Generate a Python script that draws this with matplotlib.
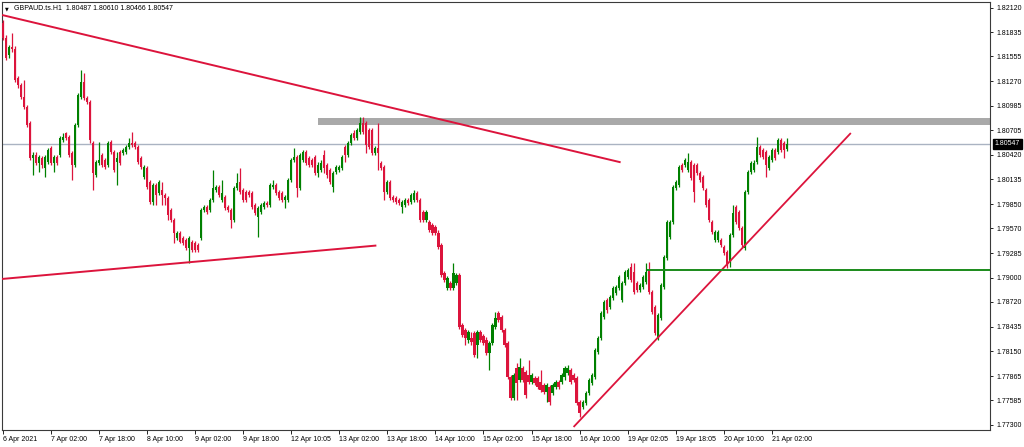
import matplotlib
matplotlib.use("Agg")
import matplotlib.pyplot as plt
from matplotlib.patches import Rectangle
import numpy as np

# ---------------- data (GBPAUD H1 candles) ----------------
opens = [
    1.81941, 1.81769, 1.81572, 1.81664, 1.81641, 1.81307, 1.81225, 1.81087, 1.80972, 1.80787,
    1.80383, 1.80417, 1.80325, 1.80383, 1.80268, 1.80337, 1.80499, 1.80325, 1.80394, 1.80417,
    1.80591, 1.80671, 1.80625, 1.80440, 1.80302, 1.80764, 1.81087, 1.81260, 1.81076, 1.81030,
    1.80556, 1.80186, 1.80325, 1.80417, 1.80360, 1.80302, 1.80568, 1.80452, 1.80337, 1.80452,
    1.80440, 1.80452, 1.80510, 1.80556, 1.80556, 1.80510, 1.80383, 1.80163, 1.80268, 1.80106,
    1.79875, 1.80071, 1.79979, 1.80014, 1.79956, 1.79922, 1.79783, 1.79667, 1.79460, 1.79517,
    1.79460, 1.79436, 1.79344, 1.79413, 1.79401, 1.79378, 1.79460, 1.79783, 1.79817, 1.79783,
    1.79898, 1.80014, 1.80048, 1.79898, 1.79933, 1.79817, 1.79783, 1.79667, 1.80037, 1.80106,
    1.80014, 1.79991, 1.79991, 1.79979, 1.79840, 1.79702, 1.79760, 1.79817, 1.79863, 1.79840,
    1.80048, 1.80071, 1.79991, 1.79979, 1.79898, 1.79898, 1.80129, 1.80360, 1.80394, 1.80037,
    1.80360, 1.80452, 1.80383, 1.80360, 1.80394, 1.80209, 1.80244, 1.80417, 1.80302, 1.80244,
    1.80048, 1.80221, 1.80244, 1.80268, 1.80510, 1.80417, 1.80556, 1.80671, 1.80614, 1.80683,
    1.80787, 1.80787, 1.80706, 1.80706, 1.80440, 1.80499, 1.80325, 1.80279, 1.79991, 1.80106,
    1.79933, 1.79922, 1.79898, 1.79817, 1.79840, 1.79898, 1.79875, 1.79898, 1.79979, 1.79898,
    1.79760, 1.79667, 1.79644, 1.79609, 1.79586, 1.79517, 1.79378, 1.79055, 1.78882, 1.78939,
    1.78882, 1.78939, 1.79032, 1.78455, 1.78397, 1.78282, 1.78305, 1.78362, 1.78224, 1.78374,
    1.78328, 1.78282, 1.78131, 1.78247, 1.78432, 1.78593, 1.78547, 1.78397, 1.78247, 1.77854,
    1.77612, 1.77959, 1.77820, 1.77959, 1.77912, 1.77877, 1.77797, 1.77843, 1.77843, 1.77797,
    1.77762, 1.77681, 1.77739, 1.77669, 1.77739, 1.77797, 1.77797, 1.77854, 1.77900, 1.77935,
    1.77877, 1.77843, 1.77566, 1.77508, 1.77554, 1.77669, 1.77785, 1.77854, 1.78143, 1.78305,
    1.78547, 1.78744, 1.78663, 1.78767, 1.78824, 1.78882, 1.78744, 1.78939, 1.79009, 1.79124,
    1.79067, 1.78939, 1.78859, 1.78893, 1.78951, 1.79090, 1.78836, 1.78663, 1.78305, 1.78536,
    1.78893, 1.79229, 1.79471, 1.79644, 1.80037, 1.80071, 1.80302, 1.80302, 1.80244, 1.80337,
    1.80302, 1.80302, 1.80209, 1.80163, 1.80014, 1.79898, 1.79644, 1.79436, 1.79436, 1.79436,
    1.79355, 1.79298, 1.79182, 1.79494, 1.79817, 1.79760, 1.79575, 1.79344, 1.79991, 1.80221,
    1.80244, 1.80337, 1.80510, 1.80475, 1.80452, 1.80268, 1.80360, 1.80475, 1.80452, 1.80591,
    1.80556, 1.80487,
]
highs = [
    1.81976, 1.81803, 1.81687, 1.81826, 1.81676, 1.81330, 1.81248, 1.81283, 1.80995, 1.80810,
    1.80452, 1.80452, 1.80417, 1.80406, 1.80417, 1.80499, 1.80522, 1.80417, 1.80417, 1.80637,
    1.80671, 1.80683, 1.80648, 1.80463, 1.80787, 1.81133, 1.81399, 1.81364, 1.81099, 1.81053,
    1.80579, 1.80360, 1.80568, 1.80440, 1.80383, 1.80579, 1.80591, 1.80475, 1.80452, 1.80475,
    1.80499, 1.80533, 1.80614, 1.80683, 1.80579, 1.80533, 1.80406, 1.80302, 1.80291, 1.80129,
    1.80094, 1.80094, 1.80129, 1.80106, 1.79979, 1.79945, 1.79806, 1.79691, 1.79540, 1.79540,
    1.79483, 1.79460, 1.79483, 1.79436, 1.79424, 1.79401, 1.79806, 1.79840, 1.79840, 1.79922,
    1.80244, 1.80071, 1.80071, 1.80129, 1.79956, 1.79840, 1.79806, 1.80060, 1.80209, 1.80268,
    1.80037, 1.80014, 1.80014, 1.80002, 1.79863, 1.79829, 1.79863, 1.79886, 1.79886, 1.80094,
    1.80129, 1.80094, 1.80014, 1.80002, 1.79956, 1.80152, 1.80383, 1.80499, 1.80417, 1.80440,
    1.80475, 1.80475, 1.80406, 1.80383, 1.80417, 1.80337, 1.80360, 1.80475, 1.80325, 1.80268,
    1.80232, 1.80302, 1.80302, 1.80417, 1.80533, 1.80579, 1.80671, 1.80706, 1.80730, 1.80856,
    1.80856, 1.80810, 1.80730, 1.80730, 1.80522, 1.80787, 1.80348, 1.80302, 1.80129, 1.80129,
    1.79956, 1.79945, 1.79922, 1.79898, 1.79922, 1.79922, 1.79979, 1.80014, 1.80002, 1.79922,
    1.79783, 1.79783, 1.79667, 1.79632, 1.79609, 1.79552, 1.79401, 1.79078, 1.79021, 1.78962,
    1.79170, 1.79055, 1.79055, 1.78478, 1.78421, 1.78397, 1.78374, 1.78385, 1.78397, 1.78397,
    1.78351, 1.78316, 1.78270, 1.78478, 1.78605, 1.78616, 1.78570, 1.78421, 1.78270, 1.77877,
    1.77900, 1.78016, 1.78074, 1.77982, 1.77935, 1.78051, 1.77900, 1.77866, 1.77866, 1.77935,
    1.77785, 1.77785, 1.77762, 1.77785, 1.77820, 1.77820, 1.77900, 1.77982, 1.77993, 1.77959,
    1.77900, 1.77866, 1.77589, 1.77589, 1.77692, 1.77843, 1.77900, 1.78190, 1.78328, 1.78616,
    1.78744, 1.78767, 1.78801, 1.78905, 1.78916, 1.79032, 1.78962, 1.79090, 1.79113, 1.79170,
    1.79170, 1.78962, 1.78939, 1.79032, 1.79170, 1.79182, 1.78859, 1.78686, 1.78593, 1.78939,
    1.79263, 1.79667, 1.79667, 1.80071, 1.80129, 1.80302, 1.80325, 1.80383, 1.80440, 1.80360,
    1.80325, 1.80325, 1.80232, 1.80186, 1.80037, 1.79922, 1.79667, 1.79552, 1.79552, 1.79460,
    1.79378, 1.79321, 1.79517, 1.79840, 1.79840, 1.79783, 1.79598, 1.80014, 1.80244, 1.80348,
    1.80360, 1.80625, 1.80533, 1.80499, 1.80475, 1.80417, 1.80499, 1.80499, 1.80614, 1.80614,
    1.80579, 1.80610,
]
lows = [
    1.81745, 1.81514, 1.81538, 1.81607, 1.81260, 1.81191, 1.81064, 1.80949, 1.80741, 1.80360,
    1.80186, 1.80302, 1.80221, 1.80268, 1.80163, 1.80314, 1.80302, 1.80221, 1.80302, 1.80394,
    1.80568, 1.80591, 1.80394, 1.80129, 1.80279, 1.80741, 1.81064, 1.81053, 1.81007, 1.80556,
    1.80014, 1.80163, 1.80302, 1.80279, 1.80256, 1.80279, 1.80429, 1.80221, 1.80071, 1.80302,
    1.80417, 1.80429, 1.80487, 1.80510, 1.80487, 1.80314, 1.80256, 1.80140, 1.80025, 1.79852,
    1.79840, 1.79840, 1.79956, 1.79840, 1.79840, 1.79667, 1.79644, 1.79401, 1.79436, 1.79401,
    1.79378, 1.79321, 1.79170, 1.79298, 1.79298, 1.79298, 1.79436, 1.79760, 1.79737, 1.79760,
    1.79875, 1.79991, 1.79933, 1.79875, 1.79783, 1.79760, 1.79575, 1.79644, 1.80014, 1.79968,
    1.79875, 1.79875, 1.79933, 1.79794, 1.79725, 1.79471, 1.79737, 1.79794, 1.79817, 1.79817,
    1.80025, 1.79956, 1.79898, 1.79875, 1.79806, 1.79875, 1.80106, 1.80337, 1.79933, 1.80014,
    1.80337, 1.80302, 1.80279, 1.80279, 1.80186, 1.80163, 1.80221, 1.80209, 1.80152, 1.80083,
    1.79991, 1.80198, 1.80221, 1.80244, 1.80337, 1.80394, 1.80533, 1.80591, 1.80591, 1.80660,
    1.80660, 1.80440, 1.80487, 1.80417, 1.80417, 1.80244, 1.80244, 1.79898, 1.79968, 1.79898,
    1.79875, 1.79852, 1.79840, 1.79748, 1.79817, 1.79840, 1.79852, 1.79875, 1.79875, 1.79644,
    1.79644, 1.79644, 1.79529, 1.79494, 1.79494, 1.79332, 1.79009, 1.78951, 1.78859, 1.78859,
    1.78859, 1.78916, 1.78409, 1.78316, 1.78224, 1.78247, 1.78224, 1.78085, 1.78074, 1.78259,
    1.78224, 1.78108, 1.77935, 1.78224, 1.78409, 1.78490, 1.78374, 1.78201, 1.77831, 1.77589,
    1.77589, 1.77589, 1.77797, 1.77797, 1.77612, 1.77774, 1.77774, 1.77762, 1.77716, 1.77681,
    1.77658, 1.77566, 1.77531, 1.77646, 1.77716, 1.77716, 1.77774, 1.77820, 1.77877, 1.77774,
    1.77797, 1.77531, 1.77393, 1.77485, 1.77531, 1.77646, 1.77762, 1.77831, 1.78120, 1.78282,
    1.78524, 1.78593, 1.78640, 1.78744, 1.78801, 1.78859, 1.78721, 1.78916, 1.78986, 1.78951,
    1.78813, 1.78836, 1.78836, 1.78870, 1.78928, 1.78813, 1.78582, 1.78339, 1.78282, 1.78513,
    1.78870, 1.79205, 1.79448, 1.79621, 1.80014, 1.80048, 1.80221, 1.80279, 1.80221, 1.80129,
    1.79875, 1.80186, 1.80106, 1.80014, 1.79817, 1.79644, 1.79506, 1.79413, 1.79413, 1.79355,
    1.79263, 1.79113, 1.79124, 1.79471, 1.79621, 1.79552, 1.79355, 1.79321, 1.79968, 1.80198,
    1.80221, 1.80314, 1.80394, 1.80371, 1.80163, 1.80244, 1.80337, 1.80360, 1.80429, 1.80452,
    1.80383, 1.80466,
]
closes = [
    1.81769, 1.81538, 1.81664, 1.81641, 1.81283, 1.81225, 1.81087, 1.80972, 1.80764, 1.80383,
    1.80417, 1.80325, 1.80394, 1.80302, 1.80394, 1.80475, 1.80325, 1.80394, 1.80325, 1.80614,
    1.80625, 1.80614, 1.80417, 1.80302, 1.80764, 1.81110, 1.81260, 1.81076, 1.81030, 1.80591,
    1.80209, 1.80337, 1.80360, 1.80302, 1.80279, 1.80556, 1.80452, 1.80244, 1.80383, 1.80325,
    1.80475, 1.80510, 1.80556, 1.80533, 1.80510, 1.80337, 1.80279, 1.80279, 1.80048, 1.79875,
    1.80071, 1.79956, 1.80106, 1.79956, 1.79922, 1.79725, 1.79667, 1.79517, 1.79517, 1.79413,
    1.79401, 1.79344, 1.79460, 1.79321, 1.79321, 1.79321, 1.79783, 1.79817, 1.79760, 1.79898,
    1.80037, 1.80048, 1.79956, 1.79979, 1.79806, 1.79783, 1.79667, 1.80037, 1.80094, 1.79991,
    1.79898, 1.79898, 1.79956, 1.79817, 1.79748, 1.79806, 1.79840, 1.79863, 1.79840, 1.80071,
    1.80071, 1.79979, 1.79922, 1.79898, 1.79933, 1.80129, 1.80360, 1.80394, 1.80037, 1.80417,
    1.80452, 1.80325, 1.80302, 1.80302, 1.80209, 1.80302, 1.80325, 1.80268, 1.80186, 1.80106,
    1.80209, 1.80279, 1.80279, 1.80394, 1.80417, 1.80556, 1.80648, 1.80614, 1.80706, 1.80787,
    1.80683, 1.80533, 1.80510, 1.80440, 1.80499, 1.80440, 1.80268, 1.79991, 1.80106, 1.79922,
    1.79898, 1.79875, 1.79863, 1.79875, 1.79898, 1.79863, 1.79956, 1.79979, 1.79898, 1.79667,
    1.79667, 1.79760, 1.79552, 1.79517, 1.79517, 1.79355, 1.79032, 1.78974, 1.78998, 1.78882,
    1.79055, 1.79032, 1.78432, 1.78339, 1.78305, 1.78374, 1.78259, 1.78108, 1.78374, 1.78282,
    1.78247, 1.78131, 1.78247, 1.78455, 1.78536, 1.78513, 1.78397, 1.78224, 1.77854, 1.77612,
    1.77877, 1.77785, 1.77970, 1.77820, 1.77646, 1.77797, 1.77877, 1.77785, 1.77739, 1.77704,
    1.77681, 1.77762, 1.77566, 1.77762, 1.77797, 1.77739, 1.77877, 1.77959, 1.77959, 1.77797,
    1.77820, 1.77554, 1.77439, 1.77566, 1.77669, 1.77820, 1.77877, 1.78166, 1.78305, 1.78593,
    1.78721, 1.78628, 1.78778, 1.78882, 1.78893, 1.79009, 1.78939, 1.79067, 1.79090, 1.78974,
    1.78836, 1.78859, 1.78916, 1.79009, 1.79067, 1.78836, 1.78605, 1.78362, 1.78570, 1.78916,
    1.79240, 1.79644, 1.79644, 1.80048, 1.80106, 1.80279, 1.80244, 1.80360, 1.80337, 1.80152,
    1.79991, 1.80209, 1.80129, 1.80037, 1.79840, 1.79667, 1.79529, 1.79529, 1.79529, 1.79378,
    1.79286, 1.79147, 1.79494, 1.79748, 1.79644, 1.79575, 1.79378, 1.79991, 1.80221, 1.80325,
    1.80325, 1.80510, 1.80417, 1.80394, 1.80302, 1.80394, 1.80475, 1.80383, 1.80591, 1.80475,
    1.80475, 1.80547,
]

# time axis labels (every 16 H1 bars)
time_tick_bars = [0, 16, 32, 48, 64, 80, 96, 112, 128, 144, 160, 176, 192, 208, 224, 240, 256]
time_labels = ["6 Apr 2021", "7 Apr 02:00", "7 Apr 18:00", "8 Apr 10:00", "9 Apr 02:00",
               "9 Apr 18:00", "12 Apr 10:05", "13 Apr 02:00", "13 Apr 18:00", "14 Apr 10:00",
               "15 Apr 02:00", "15 Apr 18:00", "16 Apr 10:00", "19 Apr 02:05", "19 Apr 18:05",
               "20 Apr 10:00", "21 Apr 02:00"]
price_ticks = [1.82120, 1.81835, 1.81555, 1.81270, 1.80985, 1.80705, 1.80420, 1.80135, 1.79850,
               1.79570, 1.79285, 1.79000, 1.78720, 1.78435, 1.78150, 1.77865, 1.77585, 1.77300]

# drawn objects (bar index, price)
down_trend_bars = [-0.33, 205.67]
down_trend_prices = [1.82034, 1.80333]
low_trend_bars = [-0.33, 124.33]
low_trend_prices = [1.78986, 1.79372]
up_trend_bars = [190.0, 282.33]
up_trend_prices = [1.77277, 1.80671]
zone_start_bar = 105.0
zone_prices = [1.80758, 1.80839]
level_start_bar = 214.3
level_price = 1.79090
bid_price = 1.80547
header = "GBPAUD.ts.H1  1.80487 1.80610 1.80466 1.80547"

# ---------------- styling ----------------
plt.rcParams['font.family'] = ['Liberation Sans', 'DejaVu Sans']
BULL = "#008000"
BEAR = "#dc143c"
FS = 5

W, H = 1024, 447
fig = plt.figure(figsize=(W / 100, H / 100), dpi=100)
fig.patch.set_facecolor("white")
ax = fig.add_axes([2 / W, (H - 430) / H, 988 / W, 428 / H])
ax.set_facecolor("white")

O = np.array(opens); Hh = np.array(highs); L = np.array(lows); C = np.array(closes)
idx = np.arange(len(C))
up = C >= O
cols = np.where(up, BULL, BEAR)

x_right = 328.67
ax.set_xlim(-0.333, x_right)
ax.set_ylim(1.77242, 1.82184)

# resistance zone (background)
ax.add_patch(Rectangle((zone_start_bar, zone_prices[0]), x_right - zone_start_bar,
                       zone_prices[1] - zone_prices[0], facecolor="#a9a9a9",
                       edgecolor="none", zorder=1))
# bid line
ax.axhline(bid_price, color="#aab3c2", lw=1.0, zorder=1.5)

# candles
ax.vlines(idx, L, Hh, colors=cols, lw=0.9, zorder=3)
body_lo = np.minimum(O, C)
body_h = np.maximum(np.abs(C - O), 0.00008)
ax.bar(idx, body_h, bottom=body_lo, width=0.72, color=cols, lw=0, zorder=4)

# trend lines & level
ax.plot(down_trend_bars, down_trend_prices, color=BEAR, lw=1.4, zorder=5, solid_capstyle="butt")
ax.plot(low_trend_bars, low_trend_prices, color=BEAR, lw=1.4, zorder=5, solid_capstyle="butt")
ax.plot(up_trend_bars, up_trend_prices, color=BEAR, lw=1.3, zorder=5, solid_capstyle="butt")
ax.plot([level_start_bar, x_right], [level_price, level_price], color="#1a8a1a", lw=1.4,
        zorder=5, solid_capstyle="butt")

# axes, ticks
for s in ax.spines.values():
    s.set_color("#3a3a3a")
    s.set_linewidth(0.8)
ax.yaxis.tick_right()
ax.set_yticks(price_ticks)
ax.set_yticklabels([f"{v:.5f}" for v in price_ticks])
ax.tick_params(axis="y", direction="out", length=2.5, width=0.6, pad=2, labelsize=FS,
               colors="black")
ax.set_xticks(time_tick_bars)
ax.set_xticklabels(time_labels, ha="left")
ax.tick_params(axis="x", direction="out", length=3, width=0.6, pad=1.5, labelsize=FS,
               colors="black")

# current price box
ax.annotate(f"{bid_price:.5f}", xy=(1.0, bid_price), xycoords=("axes fraction", "data"),
            xytext=(3.5, 0), textcoords="offset points", ha="left", va="center",
            fontsize=FS, color="white", zorder=10, annotation_clip=False,
            bbox=dict(boxstyle="square,pad=0.25", facecolor="black", edgecolor="black"))

# header
fig.text(5 / W, 1 - 8.5 / H, "\u25BC", fontsize=3.5, color="black", va="center", ha="left",
         family=["DejaVu Sans"])
fig.text(14 / W, 1 - 8.5 / H, header, fontsize=FS, color="black", va="center", ha="left")

fig.savefig("out.png", dpi=100, facecolor="white")
